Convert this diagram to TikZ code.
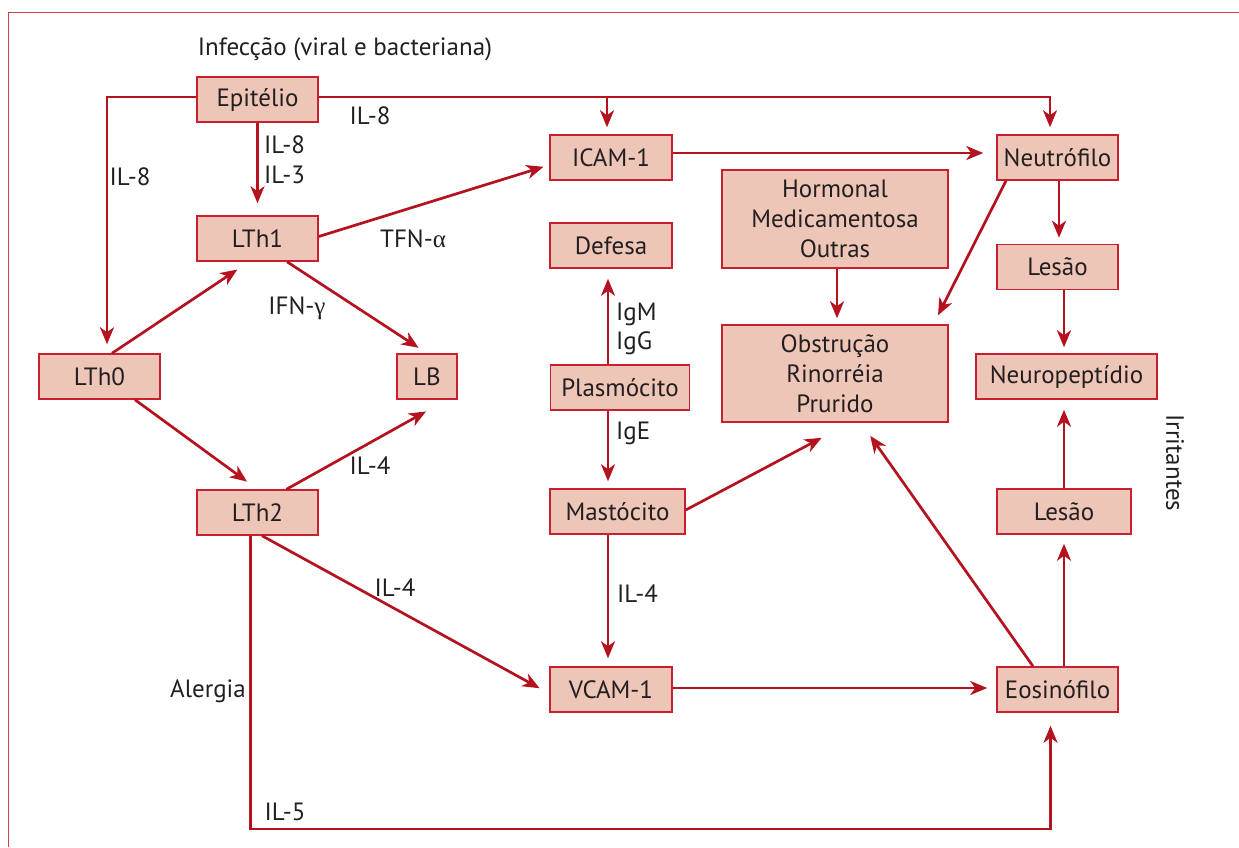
\documentclass[tikz,border=0pt]{standalone}
\usepackage{fontspec}
\setmainfont{PT Sans}
\newfontfamily\grk{Liberation Serif}
\usetikzlibrary{arrows.meta,calc}
\definecolor{boxfill}{HTML}{EEC6B8}
\definecolor{boxline}{HTML}{C8202F}
\definecolor{arrline}{HTML}{B3121E}
\definecolor{txt}{HTML}{231F20}
\definecolor{frameline}{HTML}{D04048}
\begin{document}
\begin{tikzpicture}[x=1pt,y=-1pt,
 box/.style={draw=boxline,line width=1.5pt,fill=boxfill,inner sep=0pt,text=txt,font=\fontsize{25}{30}\selectfont,align=center},
 arr/.style={draw=arrline,line width=2.7pt,-{Stealth[length=17pt,width=14pt,inset=5pt]}},
 lbl/.style={text=txt,font=\fontsize{25}{30}\selectfont,inner sep=0pt}]
\useasboundingbox (0,0) rectangle (1239,847);
\draw[frameline,line width=1pt] (8,847) -- (8,12) -- (1239,12);

\node[box,minimum width=121pt,minimum height=45pt] (epi) at (257.5,99.5) {Epitélio};
\node[box,minimum width=121pt,minimum height=45pt] (lth1) at (257.5,238.5) {LTh1};
\node[box,minimum width=121pt,minimum height=45pt] (lth0) at (99.5,376.5) {LTh0};
\node[box,minimum width=60pt,minimum height=45pt] (lb) at (427,376.5) {LB};
\node[box,minimum width=121pt,minimum height=45pt] (lth2) at (257.5,512.5) {LTh2};
\node[box,minimum width=122pt,minimum height=45pt] (icam) at (611,157.5) {ICAM-1};
\node[box,minimum width=122pt,minimum height=45pt] (defesa) at (611,245.5) {Defesa};
\node[box,minimum width=139pt,minimum height=45pt] (plasmo) at (620,387.5) {Plasmócito};
\node[box,minimum width=135pt,minimum height=45pt] (masto) at (617.5,511.5) {Mastócito};
\node[box,minimum width=122pt,minimum height=45pt] (vcam) at (611,689.5) {VCAM-1};
\node[box,minimum width=226pt,minimum height=98pt] (horm) at (835,219) {Hormonal\\Medicamentosa\\Outras};
\node[box,minimum width=226pt,minimum height=97pt] (obst) at (835,373.5) {Obstrução\\Rinorréia\\Prurido};
\node[box,minimum width=121pt,minimum height=45pt] (neut) at (1057.5,157.5) {Neutrófilo};
\node[box,minimum width=121pt,minimum height=45pt] (les1) at (1057.5,267) {Lesão};
\node[box,minimum width=181pt,minimum height=45pt] (neuro) at (1066.5,376.5) {Neuropeptídio};
\node[box,minimum width=134pt,minimum height=45pt] (les2) at (1064,511.5) {Lesão};
\node[box,minimum width=121pt,minimum height=45pt] (eos) at (1057.5,689.5) {Eosinófilo};

\node[lbl] (inf) at (345,49) {Infecção (viral e bacteriana)};
\node[lbl,rotate=-90] (irr) at (1175,463) {Irritantes};

\coordinate (topline) at ([yshift=2.5pt]epi.east);
\coordinate (bot) at (0,829);
\coordinate (cx) at (608,0);

% Epitelio connectors
\draw[arr,shorten >=9pt] ([yshift=2.5pt]epi.west) -| ([xshift=7.5pt]lth0.north);
\draw[arr,shorten >=7pt] (topline) -| ([xshift=-7.5pt]neut.north);
\draw[arr,shorten >=7pt] ([xshift=-4pt]icam.north |- topline) -- ([xshift=-4pt]icam.north);
\draw[arr,shorten >=12pt] (epi.south) -- (lth1.north);
\node[lbl] (l1) at (130,177) {IL-8};
\node[lbl] (l2) at (370,116) {IL-8};
\node[lbl,anchor=west] (l3) at (264,145) {IL-8};
\node[lbl,anchor=west] (l4) at (264,175) {IL-3};

% LTh1
\draw[arr,shorten >=6pt] ([yshift=2pt]lth1.east) -- ([yshift=-7.5pt]icam.west);
\draw[arr,shorten >=10pt] ([xshift=29.5pt]lth1.south) -- (lb.north);
\node[lbl] (l5) at (413,239) {TFN-{\grk α}};
\node[lbl] (l6) at (297,308) {IFN-{\grk γ}};

% LTh0
\draw[arr,shorten >=14pt] ([xshift=12.5pt]lth0.north) -- ([xshift=-8.5pt]lth1.south);
\draw[arr,shorten >=13pt] ([xshift=35.5pt]lth0.south) -- (lth2.north);

% LTh2
\draw[arr,shorten >=24pt] ([xshift=29pt]lth2.north) -- ([xshift=20pt]lb.south);
\draw[arr,shorten >=11pt] ([xshift=4.5pt]lth2.south) -- ([yshift=-4pt]vcam.west);
\draw[arr,shorten >=13pt] ([xshift=-7pt]lth2.south) -- ([xshift=-7pt]lth2.south |- bot) -| ([xshift=-7pt]eos.south);
\node[lbl] (l7) at (370,466) {IL-4};
\node[lbl] (l8) at (395,588) {IL-4};
\node[lbl] (l9) at (208,691) {Alergia};
\node[lbl] (l10) at (285,812) {IL-5};

% middle column
\draw[arr,shorten >=13pt] ([yshift=4.5pt]icam.east) -- ([yshift=4.5pt]neut.west);
\draw[arr,shorten >=10pt] (plasmo.north -| cx) -- (defesa.south -| cx);
\draw[arr,shorten >=7pt] (plasmo.south -| cx) -- (masto.north -| cx);
\draw[arr,shorten >=8pt] (masto.south -| cx) -- (vcam.north -| cx);
\node[lbl,anchor=west] (l11) at (616,314) {IgM};
\node[lbl,anchor=west] (l12) at (616,343) {IgG};
\node[lbl,anchor=west] (l13) at (616,433) {IgE};
\node[lbl,anchor=west] (l14) at (617,594) {IL-4};

% towards Obstrucao
\draw[arr,shorten >=32pt] ([yshift=1.5pt]masto.east) -- ([xshift=15pt]obst.south);
\draw[arr,shorten >=6pt] ([xshift=2pt]horm.south) -- ([xshift=2pt]obst.north);
\draw[arr,shorten >=10pt] ([xshift=-51.5pt]neut.south) -- ([xshift=98.5pt]obst.north);
\draw[arr,shorten >=16pt] ([xshift=-24.5pt]eos.north) -- ([xshift=26pt]obst.south);

% right column
\draw[arr,shorten >=6pt] ([xshift=1.5pt]neut.south) -- ([xshift=1.5pt]les1.north);
\draw[arr,shorten >=6pt] ([xshift=6.5pt]les1.south) -- ([xshift=6.5pt]les1.south |- neuro.north);
\draw[arr,shorten >=10pt] (les2.north) -- (les2.north |- neuro.south);
\draw[arr,shorten >=9pt] ([xshift=6.5pt]eos.north) -- ([xshift=6.5pt]eos.north |- les2.south);
\draw[arr,shorten >=9pt] ([yshift=1.5pt]vcam.east) -- ([yshift=1.5pt]eos.west);
\end{tikzpicture}
\end{document}
